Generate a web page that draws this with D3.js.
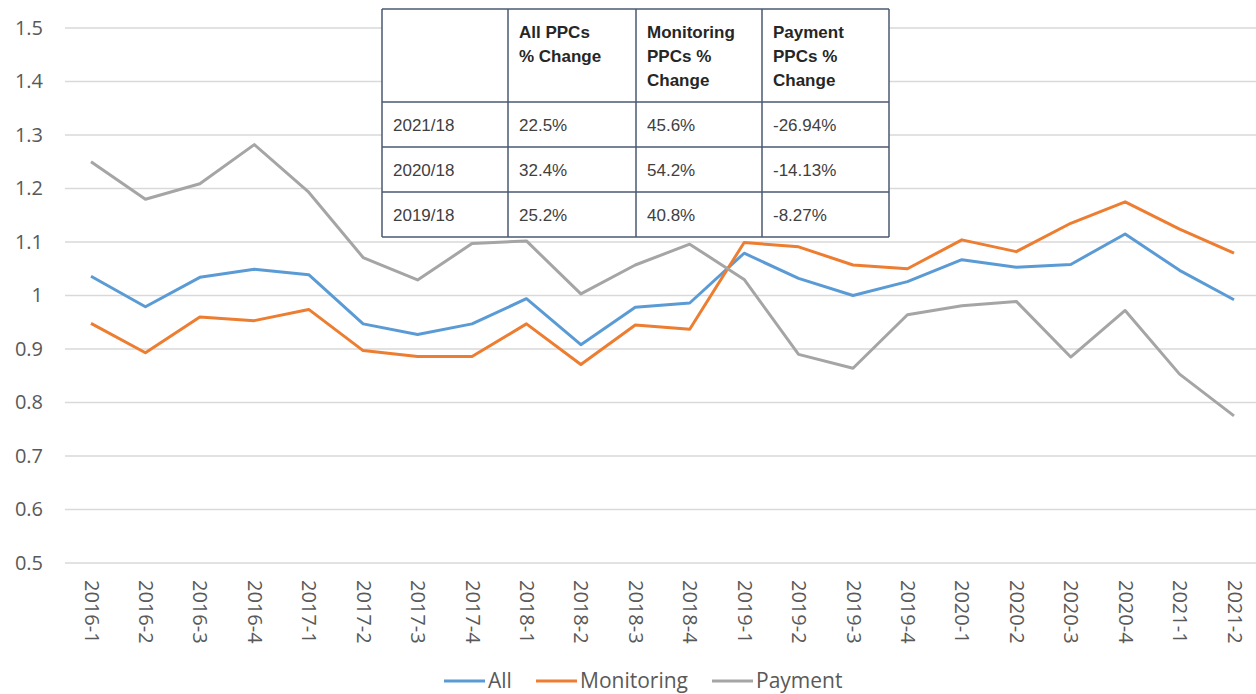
<!DOCTYPE html>
<html lang="en">
	<head>
		<meta charset="utf-8">
		<title>PPC index</title>
		<script src="https://d3js.org/d3.v7.min.js"></script>
		<style>
			body { margin: 0; background: #fff; }
			svg { display: block; }
		</style>
	</head>

	<body>
		<script type="text/javascript">

			// data
			var quarters = ["2016-1","2016-2","2016-3","2016-4","2017-1","2017-2","2017-3","2017-4",
							"2018-1","2018-2","2018-3","2018-4","2019-1","2019-2","2019-3","2019-4",
							"2020-1","2020-2","2020-3","2020-4","2021-1","2021-2"]

			var allValues = [1.036, 0.979, 1.034, 1.049, 1.039, 0.947, 0.927, 0.947,
							 0.994, 0.908, 0.978, 0.986, 1.079, 1.032, 1.000, 1.026,
							 1.067, 1.053, 1.058, 1.115, 1.047, 0.992]

			var monitoringValues = [0.948, 0.893, 0.960, 0.953, 0.974, 0.897, 0.886, 0.886,
									0.947, 0.871, 0.945, 0.937, 1.099, 1.091, 1.057, 1.050,
									1.104, 1.082, 1.135, 1.175, 1.124, 1.079]

			var paymentValues = [1.250, 1.180, 1.209, 1.282, 1.193, 1.071, 1.029, 1.097,
								 1.102, 1.003, 1.057, 1.096, 1.030, 0.890, 0.864, 0.964,
								 0.981, 0.989, 0.885, 0.972, 0.853, 0.775]

			var seriesNames = ["All", "Monitoring", "Payment"]
			var yTicks = [0.5, 0.6, 0.7, 0.8, 0.9, 1, 1.1, 1.2, 1.3, 1.4, 1.5]

			// table in the chart
			var tableHeader = [["", ""], ["All PPCs", "% Change"], ["Monitoring", "PPCs %", "Change"], ["Payment", "PPCs %", "Change"]]
			var tableRows = [
				["2021/18", "22.5%", "45.6%", "-26.94%"],
				["2020/18", "32.4%", "54.2%", "-14.13%"],
				["2019/18", "25.2%", "40.8%", "-8.27%"]
			]

			// window setup
			var w = 1256
			var h = 694
			var colors = ["#5B9BD5", "#ED7D31", "#A5A5A5"]
			var font = "'Open Sans', sans-serif"

			var svg = d3.select("body")
						.append("svg")
						.attr("width", w)
						.attr("height", h)

			var x = d3.scalePoint()
						.domain(quarters)
						.range([91, 1234])

			var y = d3.scaleLinear()
						.domain([0.5, 1.5])
						.range([563, 28])

			// gridlines
			svg.append("g")
				.selectAll("line")
				.data(yTicks)
				.enter()
				.append("line")
				.attr("x1", 65)
				.attr("x2", w)
				.attr("y1", function(d){ return y(d) })
				.attr("y2", function(d){ return y(d) })
				.style("stroke", "#d9d9d9")
				.style("stroke-width", 1.3)

			// y axis
			var yAxis = svg.append("g")
							.attr("transform", "translate(43,0)")
							.call(d3.axisLeft(y).tickValues(yTicks).tickSize(0).tickPadding(0)
									.tickFormat(function(d){ return String(+d.toFixed(1)) }))
			yAxis.select(".domain").remove()
			yAxis.selectAll("text")
				.style("font-family", font)
				.style("font-size", "20px")
				.style("fill", "#595959")

			// x axis, rotated labels
			var xAxis = svg.append("g")
							.attr("transform", "translate(0,563)")
							.call(d3.axisBottom(x).tickSize(0))
			xAxis.select(".domain").remove()
			xAxis.selectAll("text")
				.attr("transform", "rotate(90)")
				.attr("x", 17)
				.attr("y", 0)
				.attr("dy", "0.35em")
				.style("text-anchor", "start")
				.style("font-family", font)
				.style("font-size", "20px")
				.style("fill", "#595959")

			// lines
			var seriesData = [allValues, monitoringValues, paymentValues]
			var line = d3.line()
						.x(function(d, i){ return x(quarters[i]) })
						.y(function(d){ return y(d) })

			svg.append("g")
				.selectAll("path")
				.data(seriesData)
				.enter()
				.append("path")
				.attr("d", line)
				.style("fill", "none")
				.style("stroke", function(d, i){ return colors[i] })
				.style("stroke-width", 3)
				.style("stroke-linejoin", "round")

			// table
			var colX = [382, 508, 636, 762, 889]
			var rowY = [9, 102, 147, 192, 237]
			var tbl = svg.append("g")
			tbl.append("rect")
				.attr("x", colX[0]).attr("y", rowY[0])
				.attr("width", colX[4] - colX[0]).attr("height", rowY[4] - rowY[0])
				.style("fill", "#fff")
			var border = "#4a5a72"
			colX.forEach(function(cx){
				tbl.append("line").attr("x1", cx).attr("x2", cx).attr("y1", rowY[0]).attr("y2", rowY[4])
					.style("stroke", border).style("stroke-width", 1.5)
			})
			rowY.forEach(function(ry){
				tbl.append("line").attr("x1", colX[0]).attr("x2", colX[4]).attr("y1", ry).attr("y2", ry)
					.style("stroke", border).style("stroke-width", 1.5)
			})
			tableHeader.forEach(function(lines, c){
				var t = tbl.append("text")
							.attr("x", colX[c] + 11)
							.attr("y", rowY[0] + 29)
							.style("font-family", "'Liberation Sans', Arial, sans-serif")
							.style("font-size", "17px")
							.style("font-weight", "bold")
							.style("fill", "#262626")
				lines.forEach(function(s, k){
					t.append("tspan").attr("x", colX[c] + 11).attr("dy", k == 0 ? 0 : 24).text(s)
				})
			})
			tableRows.forEach(function(row, r){
				row.forEach(function(s, c){
					tbl.append("text")
						.attr("x", colX[c] + 11)
						.attr("y", (rowY[r + 1] + rowY[r + 2]) / 2 + 6)
						.style("font-family", "'Liberation Sans', Arial, sans-serif")
						.style("font-size", "17px")
						.style("fill", "#404040")
						.text(s)
				})
			})

			// legend
			var legendX = [444, 536, 712]
			var lg = svg.append("g")
						.selectAll("g")
						.data(seriesNames)
						.enter()
						.append("g")
						.attr("transform", function(d, i){ return "translate(" + legendX[i] + ",681)" })
			lg.append("line")
				.attr("x1", 0).attr("x2", 41)
				.style("stroke", function(d, i){ return colors[i] })
				.style("stroke-width", 3)
			lg.append("text")
				.attr("x", 44)
				.attr("dy", "0.35em")
				.style("font-family", font)
				.style("font-size", "21px")
				.style("fill", "#595959")
				.text(function(d){ return d })

		</script>

	</body>
</html>
